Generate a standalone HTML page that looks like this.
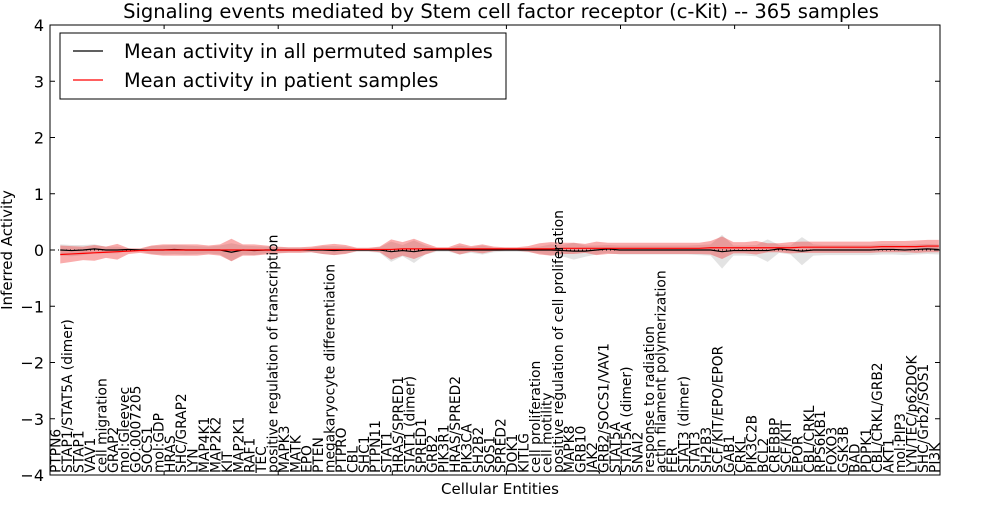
<!DOCTYPE html>
<html><head><meta charset="utf-8">
<style>
html,body{margin:0;padding:0;background:#fff;}
svg text{font-family:"DejaVu Sans","Liberation Sans",sans-serif;}
</style></head>
<body>
<svg id="chart" width="1000" height="500" xmlns="http://www.w3.org/2000/svg">
<rect width="1000" height="500" fill="#fff"/>
<text x="501" y="18" font-size="19.5" text-anchor="middle">Signaling events mediated by Stem cell factor receptor (c-Kit) -- 365 samples</text>
<g id="bands"></g>
<g id="lines"></g>
<g id="labels"></g>
<rect x="50" y="25" width="890" height="450" fill="none" stroke="#000" stroke-width="1"/>
<g id="ticks"></g>
<text transform="translate(12,250) rotate(-90)" font-size="15" text-anchor="middle">Inferred Activity</text>
<text x="500" y="494" font-size="15" text-anchor="middle">Cellular Entities</text>
<g>
<rect x="60" y="33" width="446" height="66" fill="#fff" stroke="#000"/>
<line x1="73" y1="51" x2="103" y2="51" stroke="#000" stroke-width="1.2"/>
<text x="124" y="58" font-size="19.3">Mean activity in all permuted samples</text>
<line x1="73" y1="80" x2="103" y2="80" stroke="#f00" stroke-width="1.2"/>
<text x="124" y="87" font-size="19.3">Mean activity in patient samples</text>
</g>
</svg>
<script>
const categories=["PTPN6","STAP1/STAT5A (dimer)","STAP1","VAV1","cell migration","GRAP2","mol:Gleevec","GO:0007205","SOCS1","mol:GDP","HRAS","SHC/GRAP2","LYN","MAP4K1","MAP2K2","KIT","MAP2K1","RAF1","TEC","positive regulation of transcription","MAPK3","MATK","EPO","PTEN","megakaryocyte differentiation","PTPRO","CBL","SHC1","PTPN11","STAT1","HRAS/SPRED1","STAT1 (dimer)","SPRED1","GRB2","PIK3R1","HRAS/SPRED2","PIK3CA","SH2B2","SOS1","SPRED2","DOK1","KITLG","cell proliferation","cell motility","positive regulation of cell proliferation","MAPK8","GRB10","JAK2","GRB2/SOCS1/VAV1","STAT5A","STAT5A (dimer)","SNAI2","response to radiation","actin filament polymerization","FER","STAT3 (dimer)","STAT3","SH2B3","SCF/KIT/EPO/EPOR","GAB1","CRKL","PIK3C2B","BCL2","CREBBP","SCF/KIT","EPOR","CBL/CRKL","RPS6KB1","FOXO3","GSK3B","BAD","PDPK1","CBL/CRKL/GRB2","AKT1","mol:PIP3","LYN/TEC/p62DOK","SHC/Grb2/SOS1","PI3K"];
const patientMean=[-0.08,-0.07,-0.06,-0.05,-0.04,-0.03,-0.02,-0.01,0,0,0,0,0,0,0,0,0,0,0,0,0,0,0.01,0.01,0.01,0.01,0.01,0.01,0.01,0.01,0.02,0.02,0.02,0.02,0.02,0.02,0.02,0.02,0.02,0.02,0.02,0.02,0.02,0.02,0.03,0.03,0.03,0.03,0.03,0.03,0.03,0.03,0.03,0.03,0.03,0.03,0.03,0.04,0.04,0.04,0.04,0.04,0.04,0.04,0.04,0.05,0.05,0.05,0.05,0.05,0.05,0.05,0.06,0.06,0.06,0.06,0.07,0.07];
const patientSpread=[0.16,0.14,0.12,0.14,0.1,0.14,0.05,0.04,0.08,0.1,0.1,0.1,0.1,0.08,0.1,0.2,0.1,0.1,0.08,0.06,0.05,0.05,0.05,0.08,0.1,0.08,0.03,0.03,0.05,0.18,0.12,0.18,0.1,0.03,0.03,0.1,0.05,0.08,0.04,0.03,0.03,0.05,0.1,0.12,0.1,0.1,0.08,0.12,0.1,0.1,0.1,0.1,0.1,0.1,0.1,0.1,0.1,0.12,0.2,0.1,0.1,0.12,0.08,0.08,0.1,0.1,0.1,0.1,0.1,0.1,0.1,0.1,0.1,0.1,0.1,0.11,0.11,0.11];
const permMean=[0,-0.01,0,0.02,0,0,0.01,0,0,0,0.01,0,0,0,0,-0.04,0,-0.01,0,0,0,0,0,0,-0.01,0,0,0,0,-0.03,-0.01,-0.03,0,0,0,0,0,0,0,0,0,0,0,0,-0.01,-0.02,-0.02,0,0.02,0,0,0,0,0,0,0,0,0,-0.03,-0.01,-0.01,-0.01,-0.01,0.02,0,-0.02,0,0,0,0,0,0,0.01,0.01,0,0.01,0.02,0.01];
const permSpread=[0.1,0.1,0.09,0.08,0.06,0.06,0.02,0.02,0.07,0.08,0.08,0.08,0.07,0.06,0.08,0.16,0.08,0.08,0.06,0.05,0.04,0.04,0.04,0.07,0.08,0.06,0.03,0.03,0.05,0.18,0.1,0.2,0.08,0.03,0.03,0.08,0.05,0.08,0.04,0.03,0.03,0.04,0.06,0.1,0.1,0.15,0.1,0.08,0.07,0.08,0.08,0.08,0.08,0.08,0.08,0.08,0.09,0.1,0.3,0.09,0.09,0.1,0.2,0.07,0.08,0.25,0.1,0.09,0.09,0.09,0.09,0.09,0.09,0.09,0.09,0.09,0.09,0.09];
const yTicks=[-4,-3,-2,-1,0,1,2,3,4];

const NS="http://www.w3.org/2000/svg";
const X0=50,X1=940,Y0=25,Y1=475;
const step=(X1-X0)/categories.length;
function xs(i){return X0+step*(i+0.9);}
function ys(v){return Y1-(v+4)/8*(Y1-Y0);}
function mk(tag,attrs,parent){const e=document.createElementNS(NS,tag);for(const k in attrs)e.setAttribute(k,attrs[k]);parent.appendChild(e);return e;}
function bandPath(m,s){let up=[],dn=[];for(let i=0;i<m.length;i++){up.push(xs(i)+","+ys(m[i]+s[i]));dn.unshift(xs(i)+","+ys(m[i]-s[i]));}return "M"+up.join("L")+"L"+dn.join("L")+"Z";}
function linePath(m){return "M"+m.map((v,i)=>xs(i)+","+ys(v)).join("L");}
const bands=document.getElementById('bands'),lines=document.getElementById('lines');
let b1=mk('path',{d:bandPath(permMean,permSpread),fill:'#cccccc','fill-opacity':'0.55',stroke:'none'},bands);


let b2=mk('path',{d:bandPath(patientMean,patientSpread),fill:'#f03030','fill-opacity':'0.4',stroke:'none'},bands);


let z=mk('line',{x1:X0,x2:X1,y1:ys(0),y2:ys(0),stroke:'#000','stroke-dasharray':'1,3','stroke-width':1},lines);


let l1=mk('path',{d:linePath(permMean),fill:'none',stroke:'#000','stroke-width':1.2},lines);


let l2=mk('path',{d:linePath(patientMean),fill:'none',stroke:'#f00','stroke-width':1.2},lines);


const labels=document.getElementById('labels'),ticks=document.getElementById('ticks');
categories.forEach((c,i)=>{
  const x=X0+step*(i+0.5)+5;
  const t=mk('text',{transform:`translate(${x},473) rotate(-90)`,'font-size':'13.8'},labels);
  t.textContent=c;
  
  
});
for(let k=0;k<=categories.length;k+=10){
  const x=X0+k*step;
  mk('line',{x1:x,x2:x,y1:Y0,y2:Y0+4,stroke:'#000'},ticks);
  mk('line',{x1:x,x2:x,y1:Y1,y2:Y1-4,stroke:'#000'},ticks);
}
yTicks.forEach(v=>{
  const y=ys(v);
  mk('line',{x1:X0,x2:X0+5,y1:y,y2:y,stroke:'#000'},ticks);
  mk('line',{x1:X1,x2:X1-5,y1:y,y2:y,stroke:'#000'},ticks);
  const t=mk('text',{x:X0-6,y:y+6,'font-size':'16','text-anchor':'end'},ticks);
  t.textContent=v<0?'\u2212'+(-v):String(v);
  
  
});
</script>
</body></html>
